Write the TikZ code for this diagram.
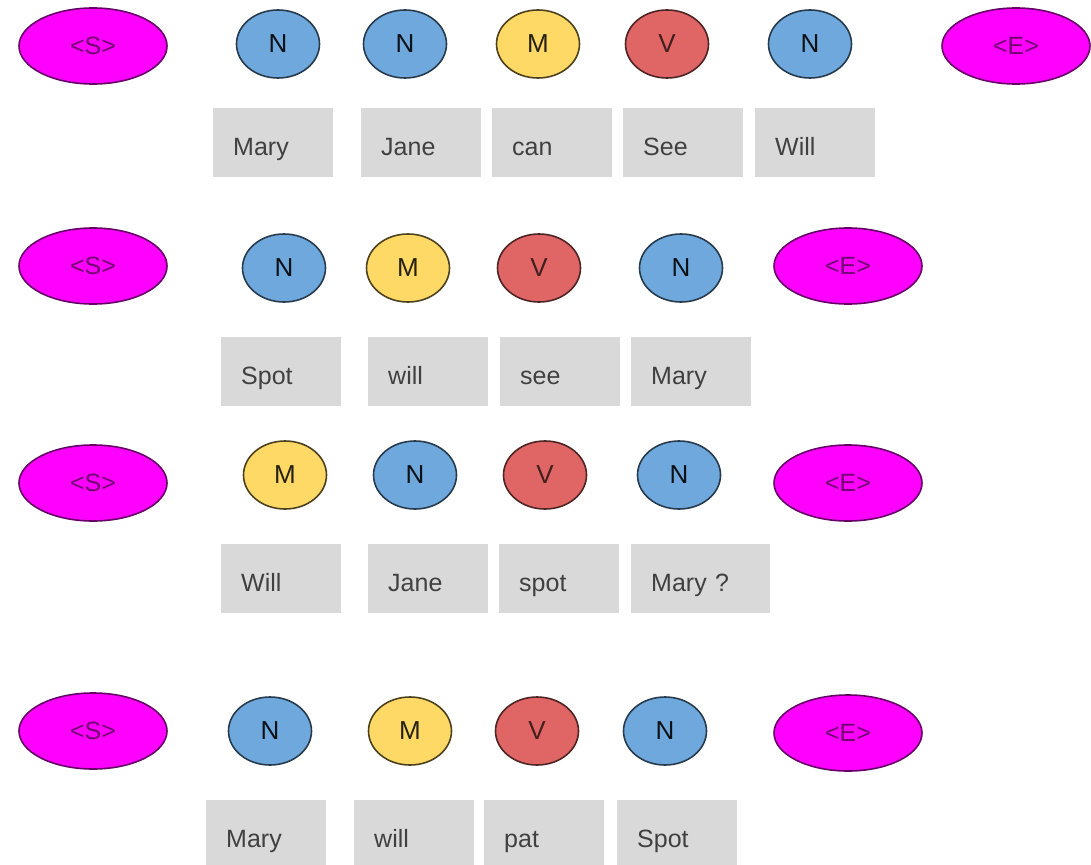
\documentclass[tikz,border=0pt]{standalone}
\usepackage{fontspec}
\setmainfont{Liberation Sans}
\usetikzlibrary{shapes.geometric}

\definecolor{nblue}{HTML}{6FA8DC}
\definecolor{myellow}{HTML}{FFD966}
\definecolor{vred}{HTML}{E06666}
\definecolor{endpink}{HTML}{FF00FF}
\definecolor{wordgray}{HTML}{D9D9D9}

\tikzset{
	tagbase/.style={ellipse, line width=1.6pt, inner sep=0pt, minimum width=83pt, minimum height=68pt, font=\fontsize{26}{30}\selectfont},
	ntag/.style={tagbase, draw=nblue!35!black, fill=nblue, text=nblue!10!black},
	mtag/.style={tagbase, draw=myellow!30!black, fill=myellow, text=myellow!15!black},
	vtag/.style={tagbase, draw=vred!35!black, fill=vred, text=vred!30!black},
	endtag/.style={tagbase, draw=endpink!40!black, fill=endpink, text=endpink!45!black, minimum width=148pt, minimum height=76pt, font=\fontsize{25}{30}\selectfont},
	word/.style={rectangle, fill=wordgray, anchor=west, minimum height=69pt, inner xsep=20pt, inner ysep=0pt, text width=80pt, text height=30pt, text depth=4pt, align=left, text=black!75, font=\fontsize{25}{30}\selectfont}
}

\begin{document}
\begin{tikzpicture}[x=1pt, y=-1pt]
	\useasboundingbox (0,0) rectangle (1091,864);
	% row 1: Mary Jane can See Will
	\node[endtag] (s1) at (93,46) {<S>};
	\node[endtag] (e1) at (1016,46) {<E>};
	\foreach \x/\t/\l [count=\i] in {278/ntag/N, 405/ntag/N, 538/mtag/M, 667/vtag/V, 810/ntag/N} {\node[\t] (t1-\i) at (\x,44) {\l};}
	\foreach \x/\w [count=\i] in {213/Mary, 361/Jane, 492/can, 623/See, 755/Will} {\node[word] (w1-\i) at (\x,142.5) {\w};}
	% row 2: Spot will see Mary
	\node[endtag] (s2) at (93,266) {<S>};
	\node[endtag] (e2) at (848,266) {<E>};
	\foreach \x/\t/\l [count=\i] in {284/ntag/N, 408/mtag/M, 539/vtag/V, 681/ntag/N} {\node[\t] (t2-\i) at (\x,268) {\l};}
	\foreach \x/\w [count=\i] in {221/Spot, 368/will, 500/see, 631/Mary} {\node[word] (w2-\i) at (\x,371) {\w};}
	% row 3: Will Jane spot Mary ?
	\node[endtag] (s3) at (93,483) {<S>};
	\node[endtag] (e3) at (848,483) {<E>};
	\foreach \x/\t/\l [count=\i] in {285/mtag/M, 415/ntag/N, 545/vtag/V, 679/ntag/N} {\node[\t] (t3-\i) at (\x,475) {\l};}
	\foreach \x/\w [count=\i] in {221/Will, 368/Jane, 499/spot} {\node[word] (w3-\i) at (\x,578.5) {\w};}
	\node[word, text width=99pt] (w3-4) at (631,578.5) {Mary ?};
	% row 4: Mary will pat Spot
	\node[endtag] (s4) at (93,731) {<S>};
	\node[endtag] (e4) at (848,733) {<E>};
	\foreach \x/\t/\l [count=\i] in {270/ntag/N, 410/mtag/M, 537/vtag/V, 665/ntag/N} {\node[\t] (t4-\i) at (\x,731) {\l};}
	\foreach \x/\w [count=\i] in {206/Mary, 354/will, 484/pat, 617/Spot} {\node[word] (w4-\i) at (\x,834) {\w};}
\end{tikzpicture}
\end{document}
